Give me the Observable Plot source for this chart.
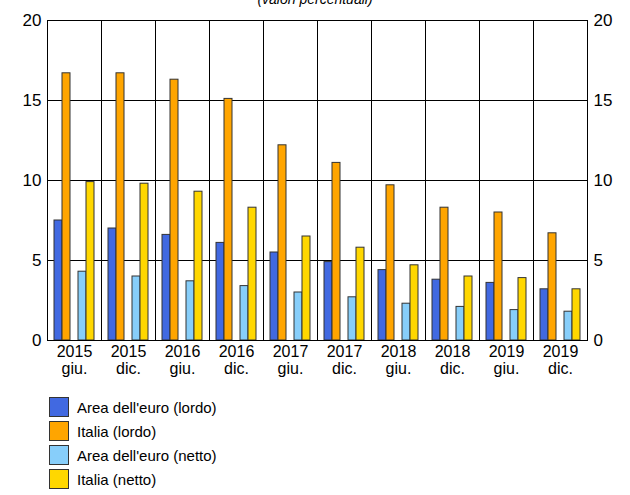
<!DOCTYPE html>
<html><head><meta charset="utf-8">
<script src="https://cdn.jsdelivr.net/npm/d3@7"></script>
<script src="https://cdn.jsdelivr.net/npm/@observablehq/plot@0.6"></script>
<style>
body{margin:0;font-family:"Liberation Sans",Arial,sans-serif;background:#fff;position:relative;width:630px;height:495px;overflow:hidden}
#title{position:absolute;top:-9px;left:0;width:630px;text-align:center;font-style:italic;font-size:14px;z-index:2}
#legend{position:absolute;left:49px;top:395px;font-size:15px}
.row{display:flex;align-items:center;height:24px}
.sw{width:20px;height:20px;border:1px solid #333;box-sizing:border-box;margin-right:8px}
</style></head><body>
<div id="chart"></div>
<div id="title">(valori percentuali)</div>
<div id="legend"></div>
<script>
const periods = ["2015\ngiu.","2015\ndic.","2016\ngiu.","2016\ndic.","2017\ngiu.","2017\ndic.","2018\ngiu.","2018\ndic.","2019\ngiu.","2019\ndic."]
const series = ["Area dell'euro (lordo)","Italia (lordo)","Area dell'euro (netto)","Italia (netto)"]
const colors = ["#4169e1","#ffa500","#87cefa","#ffd700"]
const eaLordo = [7.5,7.0,6.6,6.1,5.5,4.9,4.4,3.8,3.6,3.2]
const itLordo = [16.7,16.7,16.3,15.1,12.2,11.1,9.7,8.3,8.0,6.7]
const eaNetto = [4.3,4.0,3.7,3.4,3.0,2.7,2.3,2.1,1.9,1.8]
const itNetto = [9.9,9.8,9.3,8.3,6.5,5.8,4.7,4.0,3.9,3.2]
const yTicks = [0,5,10,15,20]

const vals = [eaLordo, itLordo, eaNetto, itNetto]
const slots = ["s0","s1","gap","s2","s3"]
const data = []
periods.forEach((p, i) => vals.forEach((v, k) => data.push({p, s: series[k], slot: slots[k < 2 ? k : k + 1], v: v[i]})))

const chart = Plot.plot({
  width: 630, height: 380,
  marginLeft: 47, marginRight: 43, marginTop: 20, marginBottom: 40,
  style: {fontFamily: "'Liberation Sans', Arial, sans-serif", fontSize: "17px", overflow: "visible"},
  fx: {domain: periods, padding: 0, label: null, axis: null},
  x: {domain: slots, paddingOuter: 0.6, paddingInner: 0, axis: null},
  y: {domain: [0, 20], ticks: yTicks, label: null, axis: null},
  color: {domain: series, range: colors},
  marks: [
    Plot.gridY(yTicks, {stroke: "#000", strokeOpacity: 1}),
    Plot.barY(data, {fx: "p", x: "slot", y: "v", fill: "s", stroke: "#333", strokeWidth: 1}),
    Plot.frame({fx: periods.slice(1), anchor: "left", stroke: "#000"}),
    Plot.frame({stroke: "#000"}),
    Plot.axisFx({domain: periods, anchor: "bottom", tickSize: 0, label: null, fontSize: 16, lineHeight: 1.05, tickPadding: 5}),
    Plot.axisY(yTicks, {anchor: "left", tickSize: 0, tickPadding: 6, label: null}),
    Plot.axisY(yTicks, {anchor: "right", tickSize: 0, tickPadding: 6, label: null})
  ]
})
d3.select("#chart").append(() => chart)

const leg = d3.select("#legend")
series.forEach((s, k) => {
  const r = leg.append("div").attr("class", "row")
  r.append("div").attr("class", "sw").style("background", colors[k])
  r.append("span").text(s)
})
</script></body></html>
